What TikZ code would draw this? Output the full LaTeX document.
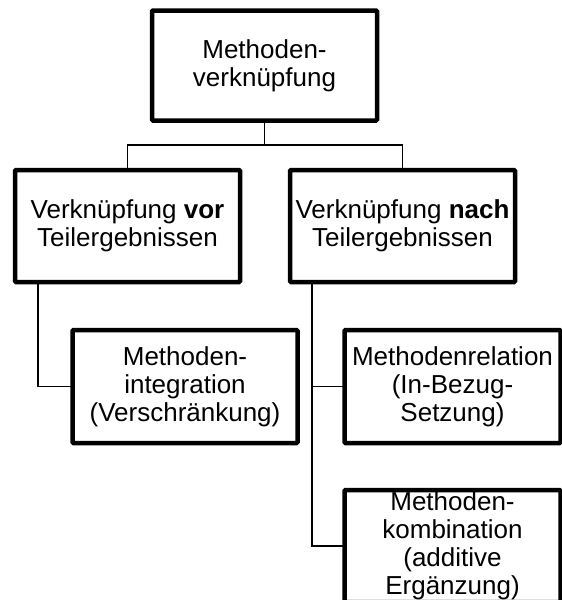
\documentclass[tikz,border=0pt]{standalone}
\usepackage{fontspec}
\setmainfont{Liberation Sans}
\usetikzlibrary{positioning}

\begin{document}
\begin{tikzpicture}[x=1pt, y=1pt]
  \tikzset{
    box/.style={draw, line width=4.5pt, rounded corners=1pt, outer sep=0pt,
                minimum width=225pt, minimum height=112pt, inner sep=2pt,
                align=center, font=\fontsize{26}{28}\selectfont},
    link/.style={line width=1.5pt}
  }
  \useasboundingbox (0,0) rectangle (562,-600);
  \clip (0,0) rectangle (562,-600);

  \node[box, minimum height=110pt] (root) at (264.5,-65.5) {Methoden-\\verknüpfung};
  \node[box] (vor) at (127.5,-226) {Verknüpfung \textbf{vor}\\Teilergebnissen};
  \node[box, right=50pt of vor] (nach) {Verknüpfung \textbf{nach}\\Teilergebnissen};
  \node[box, minimum height=113pt] (integ) at (185,-386.5) {Methoden-\\integration\\(Verschränkung)};
  \node[box, minimum width=216pt, minimum height=113pt, right=47pt of integ] (relat)
    {Methodenrelation\\(In-Bezug-\\Setzung)};
  \node[box, minimum width=216pt, inner sep=1pt, below=47pt of relat] (kombi)
    {Methoden-\\kombination\\(additive\\Ergänzung)};

  % Baum
  \draw[link] (root.south) -- ++(0,-24.5) coordinate (split);
  \draw[link] (vor.north) |- (split) -| (nach.north);
  \draw[link] ([xshift=23pt]vor.south west) |- (integ.west);
  \coordinate (trunk) at ([xshift=22pt]nach.south west);
  \draw[link] (trunk) |- (kombi.west);
  \draw[link] (trunk |- relat.west) -- (relat.west);
\end{tikzpicture}
\end{document}
